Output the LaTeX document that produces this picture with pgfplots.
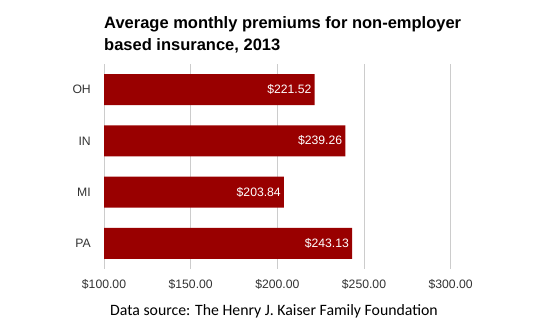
\documentclass[border=0pt]{standalone}
\usepackage{pgfplots}
\pgfplotsset{compat=1.18}
\usepackage{fontspec}
\setmainfont{Liberation Sans}
\newfontfamily\srcfont{Carlito}
\definecolor{barred}{HTML}{990000}
\definecolor{gridgray}{HTML}{CCCCCC}
\definecolor{ticktext}{HTML}{333333}
\begin{document}
\begin{tikzpicture}
\useasboundingbox (0,0) rectangle (555bp,334bp);
\begin{axis}[
  at={(104bp,65bp)}, anchor=south west,
  scale only axis, width=416bp, height=205bp,
  xbar, bar width=31bp,
  xmin=100, xmax=340,
  ymin=-0.5, ymax=3.5, y dir=reverse,
  ytick={0,1,2,3}, yticklabels={OH,IN,MI,PA},
  xtick={100,150,200,250,300},
  xticklabel={\$\pgfmathprintnumber[fixed,fixed zerofill,precision=2]{\tick}},
  /pgf/number format/assume math mode=true,
  axis line style={draw=none},
  major tick length=0pt,
  xmajorgrids, major grid style={gridgray, line width=0.8pt},
  ticklabel style={font=\fontsize{12.2bp}{14bp}\selectfont, text=ticktext, inner sep=0pt},
  yticklabel shift=13bp,
  xticklabel shift=10bp,
  nodes near coords={\$\pgfmathprintnumber[fixed,fixed zerofill,precision=2]{\pgfplotspointmeta}},
  every node near coord/.append style={anchor=east, text=white, font=\fontsize{12.2bp}{14bp}\selectfont, xshift=-3bp, inner sep=0pt},
  clip=false,
]
\addplot[fill=barred, draw=none] coordinates {(221.52,0) (239.26,1) (203.84,2) (243.13,3)};
\end{axis}
\node[anchor=base west, inner sep=0pt, font=\fontsize{16.5bp}{20bp}\selectfont\bfseries] at (104bp,305bp) {Average monthly premiums for non-employer};
\node[anchor=base west, inner sep=0pt, font=\fontsize{16.5bp}{20bp}\selectfont\bfseries] at (104bp,283.3bp) {based insurance, 2013};
\node[anchor=base, inner sep=0pt, font=\srcfont\fontsize{15.8bp}{18bp}\selectfont, text=black] at (274bp,18.3bp) {Data source: The Henry J. Kaiser Family Foundation};
\end{tikzpicture}
\end{document}
